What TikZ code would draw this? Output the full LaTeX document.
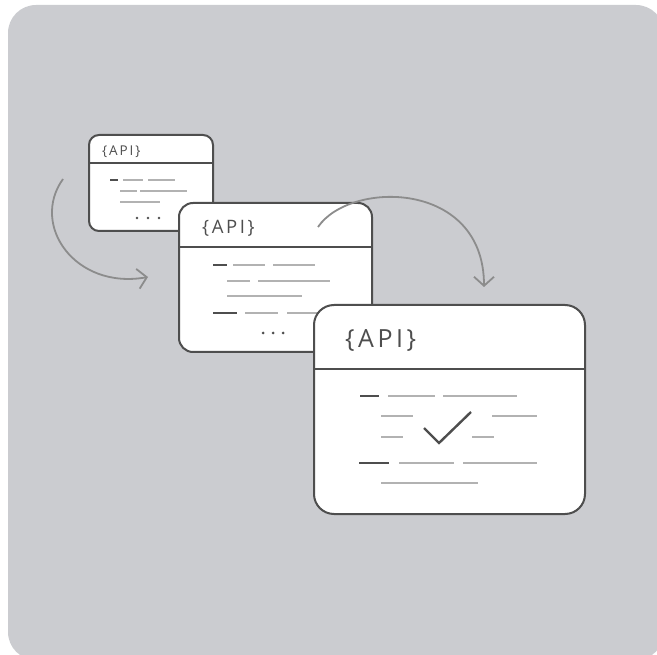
\documentclass[tikz,border=0pt]{standalone}
\usepackage{fontspec}
\setsansfont[LetterSpace=14]{Open Sans}
\usetikzlibrary{arrows.meta}
\definecolor{bggray}{HTML}{CBCCD0}
\definecolor{edgegray}{HTML}{4E4E4E}
\definecolor{arrowgray}{HTML}{8C8C8C}
\definecolor{textlight}{HTML}{B2B2B2}
\begin{document}
\begin{tikzpicture}[x=1pt,y=-1pt,
    window/.style={draw=edgegray,line width=2pt,fill=white,rounded corners=#1},
    header/.style={draw=edgegray,line width=2pt},
    light/.style={draw=textlight,line width=1.3pt},
    dark/.style={draw=edgegray,line width=1.8pt},
    flow/.style={draw=arrowgray,line width=1.8pt,-{Straight Barb[length=9pt,width=20pt,line width=1.8pt]}},
    apitext/.style={anchor=base west,inner sep=0pt,text=edgegray,font=\sffamily\fontsize{#1}{#1}\selectfont}]

    \useasboundingbox (0,0) rectangle (657,655);
    \clip (0,0) rectangle (657,655);
    \fill[bggray,rounded corners=28pt] (8,5) rectangle (664,660);

    % arrow into the second window
    \coordinate (A) at (63,179);
    \coordinate (B) at (148,277);
    \draw[flow] (A) .. controls (30,225) and (75,290) .. (B);

    % small window
    \draw[window=10pt] (89,135) rectangle (213,231);
    \draw[header] (89,163) -- (213,163);
    \node[apitext=13.5] (api1) at (102,156) {\{API\}};
    \draw[dark] (110,180) -- (118,180);
    \draw[light] (123,180) -- (143,180) (148,180) -- (175,180);
    \draw[light] (120,191) -- (137,191) (140,191) -- (187,191);
    \draw[light] (120,202) -- (160,202);
    \foreach \x in {137,148,159}
        \fill[edgegray] (\x,218) circle (1.3);

    % middle window
    \draw[window=14pt] (179,203) rectangle (372,352);
    \draw[header] (179,247) -- (372,247);
    \node[apitext=18.5] (api2) at (202,234) {\{API\}};
    \draw[dark] (213,265) -- (227,265);
    \draw[light] (233,265) -- (265,265) (273,265) -- (315,265);
    \draw[light] (227,281) -- (250,281) (258,281) -- (330,281);
    \draw[light] (227,296) -- (302,296);
    \draw[dark] (213,313) -- (237,313);
    \draw[light] (245,313) -- (278,313) (287,313) -- (318,313);
    \foreach \x in {263,273,283}
        \fill[edgegray] (\x,333) circle (1.5);

    % arrow into the large window
    \coordinate (C) at (318,227);
    \coordinate (D) at (484,287);
    \draw[flow] (C) .. controls (350,180) and (484,180) .. (D);

    % large window
    \draw[window=20pt] (314,305) rectangle (585,514);
    \draw[header] (314,369) -- (585,369);
    \node[apitext=25] (api3) at (345,348) {\{API\}};
    \draw[dark] (360,396) -- (379,396);
    \draw[light] (388,396) -- (435,396) (443,396) -- (517,396);
    \draw[light] (381,416) -- (413,416) (492,416) -- (537,416);
    \draw[light] (381,437) -- (403,437) (472,437) -- (494,437);
    \draw[dark] (359,463) -- (389,463);
    \draw[light] (399,463) -- (454,463) (463,463) -- (537,463);
    \draw[light] (381,483) -- (478,483);
    \draw[edgegray,line width=2.4pt] (424,428) -- (439,443) -- (471,412);

\end{tikzpicture}
\end{document}
